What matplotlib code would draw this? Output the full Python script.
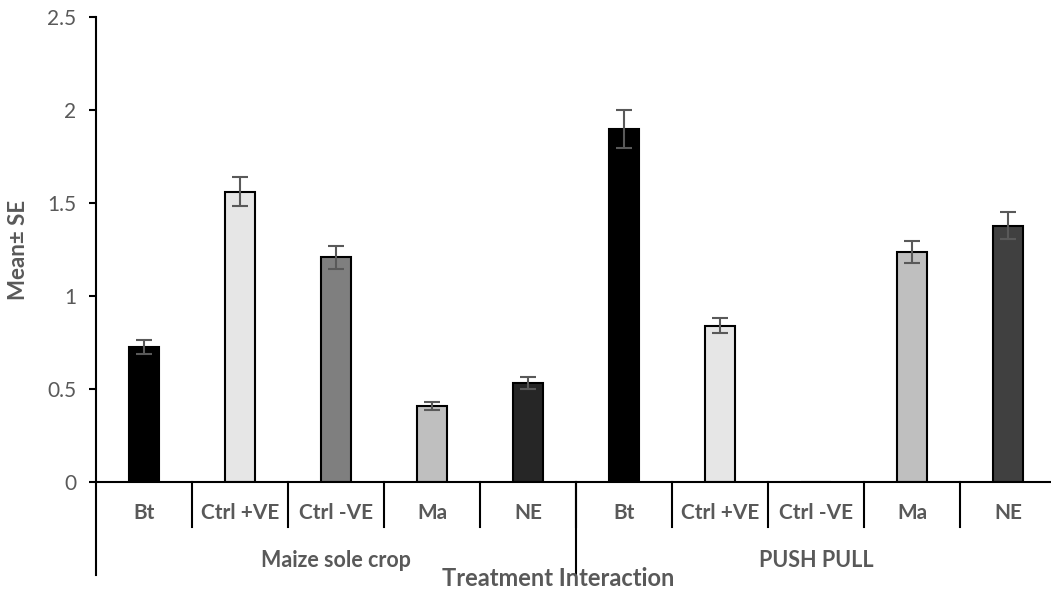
import numpy as np
import matplotlib
matplotlib.use("Agg")
import matplotlib.pyplot as plt

plt.rcParams["font.family"] = ["Lato", "DejaVu Sans"]

# ── Data ─────────────────────────────────────────────────────────────────────
systems    = ["Maize sole crop", "PUSH PULL"]
treatments = ["Bt", "Ctrl +VE", "Ctrl -VE", "Ma", "NE"]
means_sole = [0.726, 1.560, 1.207, 0.409, 0.532]
se_sole    = [0.040, 0.078, 0.062, 0.021, 0.032]
means_pp   = [1.898, 0.841, 0.0, 1.237, 1.379]
se_pp      = [0.100, 0.040, 0.0, 0.060, 0.070]

fills_sole = ["#000000", "#e6e6e6", "#7f7f7f", "#bfbfbf", "#262626"]
fills_pp   = ["#000000", "#e6e6e6", "#7f7f7f", "#bfbfbf", "#404040"]

TXT = "#595959"

means = np.array(means_sole + means_pp)
ses   = np.array(se_sole + se_pp)
fills = fills_sole + fills_pp
x = np.arange(len(means))

fig = plt.figure(figsize=(10.51, 5.89), dpi=100)
ax = fig.add_axes([96/1051, 107/589, 960/1051, 465/589])

ax.bar(x, means, width=0.32, color=fills, edgecolor="black", linewidth=1.5, zorder=2)
has_err = ses > 0
ax.errorbar(x[has_err], means[has_err], yerr=ses[has_err], fmt="none",
            ecolor=TXT, elinewidth=1.5, capsize=6, capthick=1.5, zorder=3)

ax.set_xlim(-0.5, len(means) - 0.5)
ax.set_ylim(0, 2.5)
ax.set_yticks([0, 0.5, 1, 1.5, 2, 2.5])
ax.set_yticklabels(["0", "0.5", "1", "1.5", "2", "2.5"])
ax.tick_params(axis="y", direction="out", length=5, width=1.5, colors="black",
               labelcolor=TXT, labelsize=15, pad=9)
ax.set_xticks([])
for s in ["top", "right"]:
    ax.spines[s].set_visible(False)
for s in ["left", "bottom"]:
    ax.spines[s].set_linewidth(1.5)

# ── Multi-level category axis ────────────────────────────────────────────────
tr = ax.get_xaxis_transform()
for i, lab in enumerate(treatments * len(systems)):
    ax.text(x[i], -0.066, lab, transform=tr, ha="center", va="center",
            fontsize=15, fontweight="bold", color=TXT)
for b in x[1:] - 0.5:
    ax.plot([b, b], [0, -0.097], transform=tr, color="black", lw=1.5, clip_on=False)

n = len(treatments)
for g, name in enumerate(systems):
    ax.plot([g * n - 0.5] * 2, [0, -0.2], transform=tr, color="black", lw=1.5, clip_on=False)
    ax.text(g * n + (n - 1) / 2, -0.168, name, transform=tr, ha="center", va="center",
            fontsize=15.5, fontweight="bold", color=TXT)

ax.text(4.31, -0.208, "Treatment Interaction", transform=tr, ha="center",
        va="center", fontsize=17, fontweight="bold", color=TXT)

ax.set_ylabel("Mean± SE", fontsize=16, fontweight="bold", color=TXT)
ax.yaxis.set_label_coords(-0.070, 0.5)

fig.savefig("out.png", dpi=100)
